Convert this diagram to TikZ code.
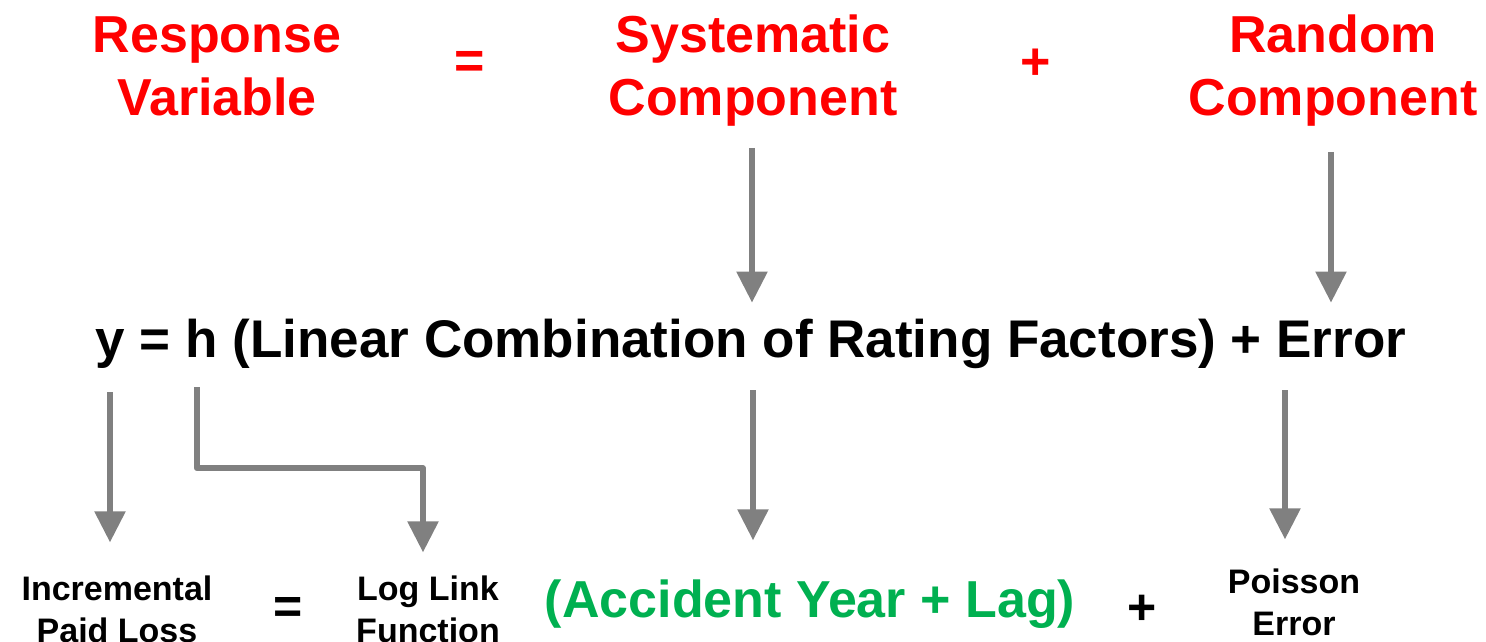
\documentclass[tikz,border=0pt]{standalone}
\usepackage{fontspec}
\setmainfont{Liberation Sans}
\usetikzlibrary{arrows.meta}
\definecolor{hdred}{HTML}{FF0000}
\definecolor{accgreen}{HTML}{00B050}
\definecolor{arrgray}{HTML}{808080}
\begin{document}
\begin{tikzpicture}[x=1pt,y=-1pt,
  every node/.style={inner sep=0pt, outer sep=0pt},
  head/.style={text=hdred, align=center, anchor=base, font=\bfseries\fontsize{52}{63}\selectfont},
  headop/.style={text=hdred, font=\bfseries\fontsize{52}{63}\selectfont},
  eqtext/.style={anchor=base, font=\bfseries\fontsize{53}{63}\selectfont},
  small/.style={align=center, anchor=base, font=\bfseries\fontsize{34}{42}\selectfont},
  smallop/.style={font=\bfseries\fontsize{50}{52}\selectfont},
  green/.style={text=accgreen, anchor=base, font=\bfseries\fontsize{52}{63}\selectfont},
  arr/.style={draw=arrgray, line width=5.5pt, line join=round,
    -{Triangle[width=30pt,length=31pt]}}]
\useasboundingbox (0,0) rectangle (1486,641);
% top row
\node[head] (resp) at (217,115) {Response\\Variable};
\node[headop] (op1) at (470,65) {=};
\node[head] (sys) at (753,115) {Systematic\\Component};
\node[headop] (op2) at (1036,64) {+};
\node[head] (rand) at (1333,115) {Random\\Component};
% equation
\node[eqtext] (eq) at (751,357) {y = h (Linear Combination of Rating Factors) + Error};
% bottom row
\node[small] (inc) at (117,642) {Incremental\\Paid Loss};
\node[smallop] (op3) at (288,610) {=};
\node[small] (link) at (428,642) {Log Link\\Function};
\node[green] (acc) at (810,617) {(Accident Year + Lag)};
\node[smallop] (op4) at (1142,610) {+};
\node[small] (pois) at (1294,635) {Poisson\\Error};
% arrows top
\draw[arr, shorten <=22pt, shorten >=16pt] ([xshift=-1pt]sys.south) -- ([xshift=-1pt]sys.south |- eq.north);
\draw[arr, shorten <=26pt, shorten >=16pt] ([xshift=-2pt]rand.south) -- ([xshift=-2pt]rand.south |- eq.north);
% arrows bottom
\draw[arr, shorten <=24pt, shorten >=33pt] ([xshift=-7pt]inc.north |- eq.south) -- ([xshift=-7pt]inc.north);
\draw[arr, shorten <=19pt, shorten >=23pt] ([xshift=101pt]eq.south west) -- ++(0,100) -| ([xshift=-5pt]link.north);
\draw[arr, shorten <=22pt, shorten >=39pt] ([xshift=2pt]eq.south) -- ([xshift=2pt]eq.south |- acc.north);
\draw[arr, shorten <=22pt, shorten >=29pt] ([xshift=-9pt]pois.north |- eq.south) -- ([xshift=-9pt]pois.north);
\end{tikzpicture}
\end{document}
